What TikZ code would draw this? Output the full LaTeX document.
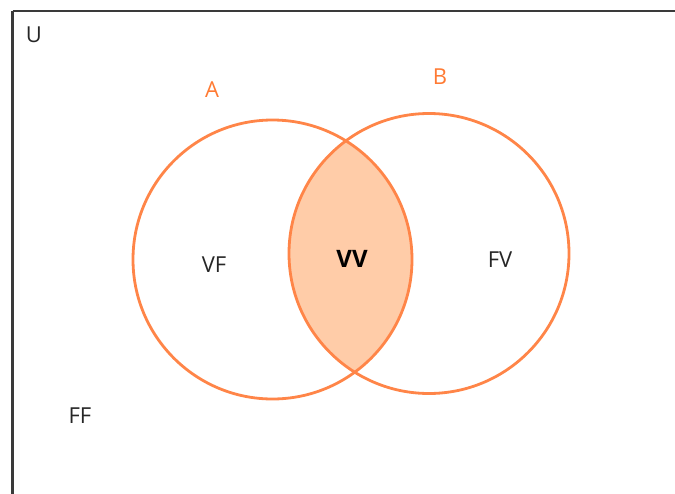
\documentclass[tikz,border=0pt]{standalone}
\usepackage{fontspec}
\setmainfont{Open Sans}
\definecolor{vorange}{HTML}{FF8548}
\definecolor{vfill}{HTML}{FFCCA8}
\definecolor{vtext}{HTML}{FF7A33}
\definecolor{frame}{HTML}{3A3A3A}
\begin{document}
\begin{tikzpicture}[x=1pt,y=-1pt,
  lbl/.style={font=\fontsize{22}{26}\selectfont, text=black!85},
  setlbl/.style={font=\fontsize{22}{26}\selectfont, text=vtext},
  setcirc/.style={draw=vorange, line width=2.8pt}]
\useasboundingbox (0,0) rectangle (675,493);
\draw[frame, line width=2.4pt] (12.5,11) -- (690,11);
\draw[frame, line width=2.4pt] (12.5,11) -- (12.5,510);
\begin{scope}
  \clip (272.5,259.5) circle (139.5);
  \fill[vfill] (429,253.5) circle (140);
\end{scope}
\node[setcirc, circle, minimum size=279pt, inner sep=0pt] (A) at (272.5,259.5) {};
\node[setcirc, circle, minimum size=280pt, inner sep=0pt] (B) at (429,253.5) {};
\node[lbl] (U) at (34,35) {U};
\node[setlbl] (Alab) at (212,90) {A};
\node[setlbl] (Blab) at (440,77) {B};
\node[lbl] (VF) at (214,265) {VF};
\node[lbl, font=\fontsize{24}{28}\selectfont\bfseries, text=black] (VV) at (352,259) {VV};
\node[lbl] (FV) at (500,260) {FV};
\node[lbl] (FF) at (80,416) {FF};
\end{tikzpicture}
\end{document}
